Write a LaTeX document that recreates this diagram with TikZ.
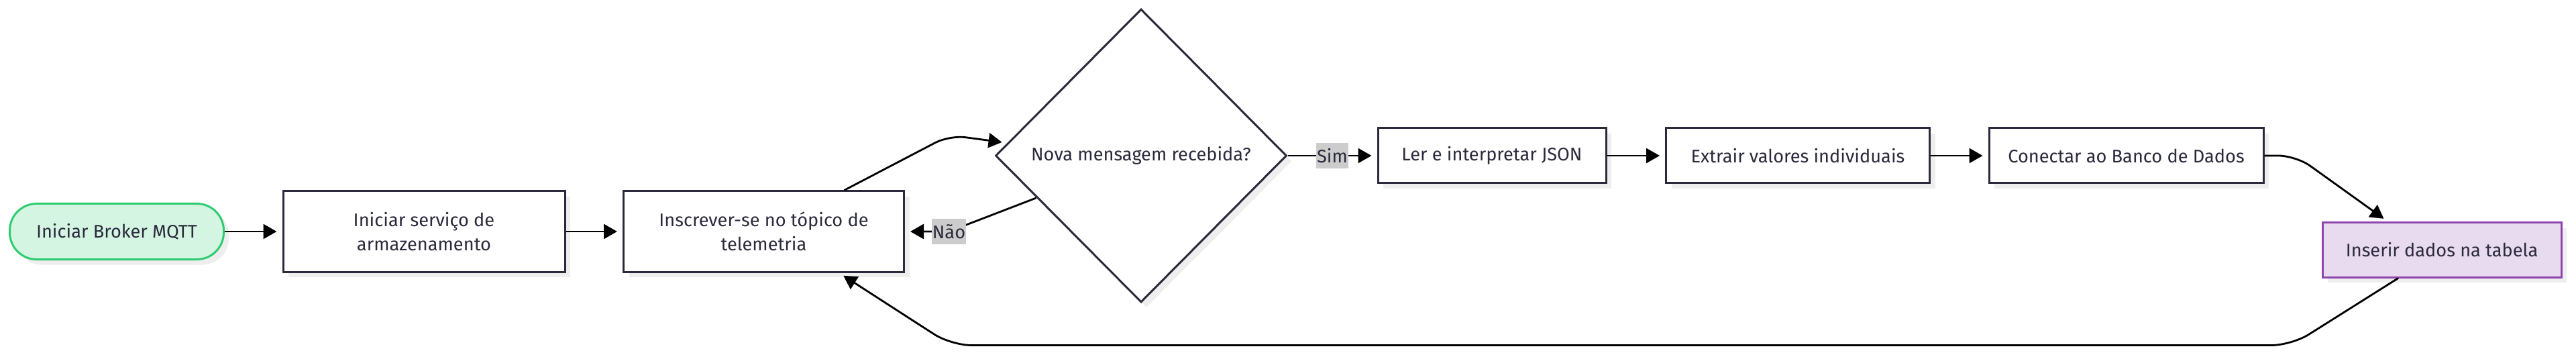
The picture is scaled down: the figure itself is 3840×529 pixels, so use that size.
\documentclass[tikz,border=0pt]{standalone}
\usepackage{fontspec}
\setmainfont{Fira Sans}
\usetikzlibrary{shapes.geometric,arrows.meta,shadows,positioning}
\definecolor{ink}{RGB}{42,42,60}
\definecolor{startline}{RGB}{46,204,113}
\definecolor{startfill}{RGB}{213,245,227}
\definecolor{endline}{RGB}{142,68,173}
\definecolor{endfill}{RGB}{232,218,239}
\definecolor{shade}{RGB}{238,238,238}
\definecolor{tagfill}{RGB}{204,204,204}

\begin{document}
\begin{tikzpicture}[x=0.5pt,y=-0.5pt,
    every node/.style={font=\fontsize{13.6}{18}\selectfont, text=ink, align=center, inner sep=0pt},
    flow/.style={draw=ink, line width=1.5pt, fill=white,
      general shadow={fill=shade, shadow xshift=4pt, shadow yshift=-4pt}},
    proc/.style={flow, rectangle, minimum height=41pt},
    tag/.style={fill=tagfill, sharp corners, minimum height=19pt, inner xsep=0.5pt},
    link/.style={draw=black, line width=1.4pt, -{Triangle[length=10pt,width=11pt]}, shorten >=4pt}]
  \useasboundingbox (0,0) rectangle (3840,529);

  % steps
  \node[flow, draw=startline, fill=startfill, rounded corners=20pt,
    minimum width=159.5pt, minimum height=41.5pt] (broker) at (174,345) {Iniciar Broker MQTT};
  \node[proc, minimum width=210pt, minimum height=60pt] (armaz) at (632,345) {Iniciar serviço de\\armazenamento};
  \node[proc, minimum width=209pt, minimum height=60pt] (inscr) at (1138.5,345) {Inscrever-se no tópico de\\telemetria};
  \node[flow, diamond, minimum width=217pt, minimum height=218.5pt] (msg) at (1701,232) {Nova mensagem recebida?};
  \node[proc, minimum width=170pt] (json) at (2224,232) {Ler e interpretar JSON};
  \node[proc, minimum width=196.5pt] (extr) at (2680,232) {Extrair valores individuais};
  \node[proc, minimum width=204.5pt] (banco) at (3169.5,232) {Conectar ao Banco de Dados};
  \node[proc, draw=endline, fill=endfill, minimum width=178pt, minimum height=40.5pt] (inserir) at (3640,372.5) {Inserir dados na tabela};

  % links
  \draw[link] (broker) -- (armaz);
  \draw[link] (armaz) -- (inscr);
  \draw[link, rounded corners=12pt] ([xshift=60pt]inscr.north) -- ++(157,-82) -- ([shift={(19,-19)}]msg.west);
  \draw[link, rounded corners=10pt] ([shift={(62,63)}]msg.west) -- ++(-130,50) node[tag] {Não} -- (inscr.east);
  \draw[link] (msg.east) -- node[tag] {Sim} (json.west);
  \draw[link] (json) -- (extr);
  \draw[link] (extr) -- (banco);
  \draw[link, rounded corners=13pt] (banco.east) -- ++(47,0) -- ([xshift=-40pt]inserir.north);
  \draw[link, rounded corners=15pt] ([xshift=-32.5pt]inserir.south) -- ++(-159,100) -- ++(-1998,0) -- ([xshift=56pt]inscr.south);
\end{tikzpicture}
\end{document}
